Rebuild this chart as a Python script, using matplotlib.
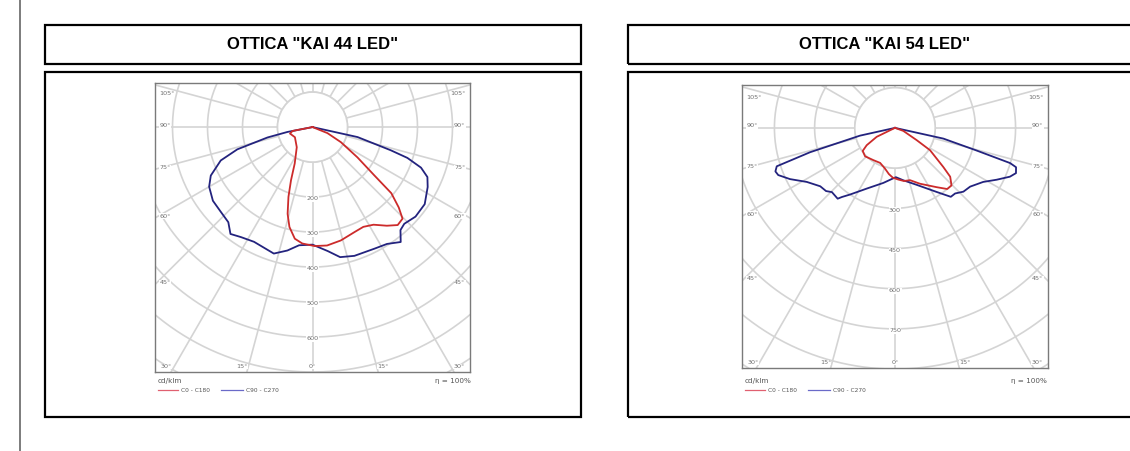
import numpy as np
import matplotlib
matplotlib.use("Agg")
import matplotlib.pyplot as plt
from matplotlib.patches import Rectangle, Circle

# photometric data: gamma angle (deg, 0 = down, negative = C180/C270 side) and cd/klm
kai44_c0_gamma = [-90, -79, -74, -60, -38, -26, -22, -19, -16, -13, -9, -5, 1, 7, 14, 22,
                  27, 32, 37, 41, 44.5, 47, 50, 52, 56, 62, 68, 90]
kai44_c0_cd = [0, 58, 67, 58, 73, 116, 164, 211, 258, 293, 323, 334, 340, 341, 334, 323,
               320, 329, 353, 371, 367, 337, 294, 224, 155, 92, 46, 0]
kai44_c90_gamma = [-90, -79, -77, -73.5, -70, -64.5, -60, -53.5, -47, -41.5, -37.5, -33, -27,
                   -17, -11.5, -6.5, 0, 7, 12, 18, 27, 32.5, 37.5, 40.5, 43.5, 49, 55.5, 62.5,
                   66.5, 69.5, 72, 73.5, 77.5, 90]
kai44_c90_cd = [0, 73, 132, 224, 279, 322, 341, 354, 357, 363, 385, 375, 368, 378, 360, 340,
                336, 357, 380, 387, 390, 396, 414, 387, 381, 390, 389, 371, 358, 331, 285, 233,
                132, 0]

kai54_c0_gamma = [-90, -64, -58.5, -54.5, -46.5, -34, -23, -14, -7.5, -2.5, 3.5, 9.5, 16, 24,
                  35, 40.5, 44.5, 48.5, 51, 57.5, 60.5, 70, 90]
kai54_c0_cd = [0, 76, 124, 148, 154, 145, 142, 156, 174, 186, 193, 201, 203, 228, 270, 300,
               301, 275, 232, 155, 93, 33, 0]
kai54_c90_gamma = [-90, -77.5, -74, -72, -70, -68, -64, -58.5, -52, -47.5, -44.5, -39, -37.5,
                   -34, -25, -12, -3.5, 1, 9, 21, 33, 39, 42.5, 47, 52, 58.5, 63, 67, 69.5, 72,
                   73, 74.5, 77.5, 90]
kai54_c90_cd = [0, 134, 330, 464, 475, 470, 436, 386, 354, 349, 336, 340, 325, 300, 250, 210,
                191, 184, 198, 228, 285, 331, 332, 349, 356, 386, 426, 466, 482, 475, 449, 316,
                185, 0]

titles = ['OTTICA "KAI 44 LED"', 'OTTICA "KAI 54 LED"']
ring_labels_44 = [200, 300, 400, 500, 600]
ring_labels_54 = [300, 450, 600, 750]
angle_labels_side = [45, 60, 75, 90, 105]
angle_labels_bottom = [30, 15, 0, 15, 30]

W, H = 1130, 451
RED = "#cc2b2b"
BLUE = "#23237e"
GRID = "#d4d4d4"
LABEL = "#707070"


def fx(x):
    return x / W


def fy(y):
    return 1 - y / H


def box(fig, x0, y0, x1, y1):
    fig.patches.append(Rectangle((fx(x0), fy(y1)), fx(x1 - x0), (y1 - y0) / H,
                                 transform=fig.transFigure, fill=False,
                                 edgecolor="black", linewidth=1.6))


def to_xy(gamma, cd):
    g = np.radians(gamma)
    cd = np.asarray(cd, dtype=float)
    return cd * np.sin(g), -cd * np.cos(g)


def polar_chart(fig, frame, lims, step, ring_labels, curves):
    x0, y0, x1, y1 = frame
    ax = fig.add_axes([fx(x0), fy(y1), fx(x1 - x0), (y1 - y0) / H])
    xmax, ybot, ytop = lims
    ax.set_xlim(-xmax, xmax)
    ax.set_ylim(ybot, ytop)
    ax.set_xticks([])
    ax.set_yticks([])
    ax.set_facecolor("white")
    for s in ax.spines.values():
        s.set_edgecolor("#7a7a7a")
        s.set_linewidth(1.0)

    # grid circles and radial lines
    t = np.linspace(0, 2 * np.pi, 400)
    for r in np.arange(step, step * 12, step):
        ax.plot(r * np.cos(t), r * np.sin(t), color=GRID, lw=1.2, zorder=1)
    for a in range(0, 360, 15):
        ar = np.radians(a)
        ax.plot([step * np.sin(ar), 5000 * np.sin(ar)],
                [-step * np.cos(ar), -5000 * np.cos(ar)], color=GRID, lw=1.2, zorder=1)
    ax.add_patch(Circle((0, 0), step, facecolor="white", edgecolor=GRID, lw=1.2, zorder=1.5))

    # labels
    fs = 4.6
    for r in ring_labels:
        ax.text(0, -r - step * 0.05, str(r), fontsize=fs, color=LABEL, ha="center",
                va="center", zorder=2,
                bbox=dict(facecolor="white", edgecolor="none", pad=0.3))
    for a in angle_labels_side:
        yy = -xmax * np.cos(np.radians(a)) / np.sin(np.radians(a)) + step * 0.05
        yy = min(yy, ytop - step * 0.3)
        ax.text(-xmax * 0.97, yy, f"{a}°", fontsize=fs, color=LABEL, ha="left", va="center",
                zorder=2, bbox=dict(facecolor="white", edgecolor="none", pad=0.2))
        ax.text(xmax * 0.97, yy, f"{a}°", fontsize=fs, color=LABEL, ha="right", va="center",
                zorder=2, bbox=dict(facecolor="white", edgecolor="none", pad=0.2))
    for i, a in enumerate(angle_labels_bottom):
        sign = -1 if i < 2 else 1
        xx = sign * min(-ybot * np.tan(np.radians(a)) * 1.08, xmax * 0.93)
        ax.text(xx, ybot + step * 0.08, f"{a}°", fontsize=fs, color=LABEL,
                ha="center", va="bottom", zorder=2,
                bbox=dict(facecolor="white", edgecolor="none", pad=0.2))

    for gamma, cd, color in curves:
        x, y = to_xy(gamma, cd)
        ax.plot(x, y, color=color, lw=1.3, zorder=3)
    return ax


def legend_block(fig, x_left, x_right, y):
    kw = dict(fontsize=5.2, color="#555555", family="DejaVu Sans")
    fig.text(fx(x_left), fy(y), "cd/klm", va="center", ha="left", **kw)
    fig.text(fx(x_right), fy(y), "η = 100%", va="center", ha="right", **kw)
    ly = fy(y + 9)
    fig.add_artist(plt.Line2D([fx(x_left), fx(x_left + 20)], [ly, ly], color="#e06070",
                              lw=0.9, transform=fig.transFigure))
    fig.text(fx(x_left + 23), ly, "C0 - C180", va="center", ha="left", fontsize=4.2,
             color="#555555")
    fig.add_artist(plt.Line2D([fx(x_left + 63), fx(x_left + 85)], [ly, ly], color="#6a6ac8",
                              lw=0.9, transform=fig.transFigure))
    fig.text(fx(x_left + 88), ly, "C90 - C270", va="center", ha="left", fontsize=4.2,
             color="#555555")


def main():
    fig = plt.figure(figsize=(W / 100, H / 100), dpi=100)
    fig.patch.set_facecolor("white")

    fig.add_artist(plt.Line2D([fx(20), fx(20)], [0, 1], color="#666666", lw=1.2,
                              transform=fig.transFigure))

    # panel boxes
    box(fig, 45, 25, 581, 64)
    box(fig, 45, 72, 581, 417)
    box(fig, 628, 25, 1142, 64)
    box(fig, 628, 72, 1142, 417)
    fig.text(fx(313), fy(44.5), titles[0], ha="center", va="center", fontsize=12,
             fontweight="bold", family="Liberation Sans")
    fig.text(fx(885), fy(44.5), titles[1], ha="center", va="center", fontsize=12,
             fontweight="bold", family="Liberation Sans")

    polar_chart(fig, (155, 83, 470, 372), (450, -700, 126), 100, ring_labels_44,
                [(kai44_c90_gamma, kai44_c90_cd, BLUE), (kai44_c0_gamma, kai44_c0_cd, RED)])
    polar_chart(fig, (742, 85, 1048, 368), (571, -896, 160), 150, ring_labels_54,
                [(kai54_c90_gamma, kai54_c90_cd, BLUE), (kai54_c0_gamma, kai54_c0_cd, RED)])

    legend_block(fig, 158, 471, 381)
    legend_block(fig, 745, 1047, 381)

    fig.savefig("out.png", dpi=100, facecolor="white")


main()
